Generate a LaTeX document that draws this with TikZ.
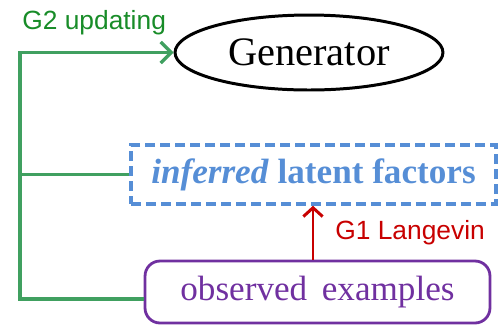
\documentclass[tikz,border=0pt]{standalone}
\usepackage{fontspec}
\setmainfont{Liberation Serif}
\newfontfamily\labelfont{Liberation Sans}
\usetikzlibrary{shapes.geometric,arrows.meta,calc}
\definecolor{gline}{RGB}{64,160,96}
\definecolor{gtext}{RGB}{24,140,40}
\definecolor{latblue}{RGB}{86,142,214}
\definecolor{obspurple}{RGB}{112,48,160}
\definecolor{langred}{RGB}{200,0,0}
\tikzset{
  genbox/.style={draw=black, line width=1.7pt, ellipse, minimum width=5.36cm, minimum height=1.5cm, inner sep=0pt, font=\fontsize{23}{26}\selectfont},
  latbox/.style={draw=latblue, line width=2pt, dash pattern=on 0.2cm off 0.1cm, minimum width=7.3cm, minimum height=1.18cm, inner sep=0pt, text=latblue, font=\fontsize{20}{24}\selectfont\bfseries},
  obsbox/.style={draw=obspurple, line width=1.6pt, rounded corners=0.3cm, minimum width=6.9cm, minimum height=1.24cm, inner sep=0pt, text=obspurple, font=\fontsize{20}{24}\selectfont},
  updline/.style={draw=gline, line width=1.9pt},
  steplabel/.style={font=\labelfont\fontsize{15}{17}\selectfont, anchor=west, inner sep=0pt},
}
\begin{document}
\begin{tikzpicture}[x=0.02cm, y=-0.02cm]
  \useasboundingbox (0,0) rectangle (500,326);
  % the three stages
  \node[genbox] (gen) at (309,52.5) {Generator};
  \node[latbox] (lat) at (313.5,174.5) {\textit{inferred} latent factors};
  \node[obsbox] (obs) at (317.5,292) {observed\, examples};
  % G2: update the generator from the data side
  \coordinate (corner) at (20,299);
  \draw[updline, -{Straight Barb[length=6pt,width=12pt]}] (corner -| obs.west) -- (corner) |- (gen.west);
  \draw[updline] (corner |- lat.west) -- (lat.west);
  \node[steplabel, text=gtext] (g2) at (22,23) {G2 updating};
  % G1: Langevin inference of the latent factors
  \draw[draw=langred, line width=1.7pt, -{Straight Barb[length=5pt,width=11pt]}] (obs.north -| 313,0) -- (lat.south -| 313,0);
  \node[steplabel, text=langred] (g1) at (335,233) {G1 Langevin};
\end{tikzpicture}
\end{document}
